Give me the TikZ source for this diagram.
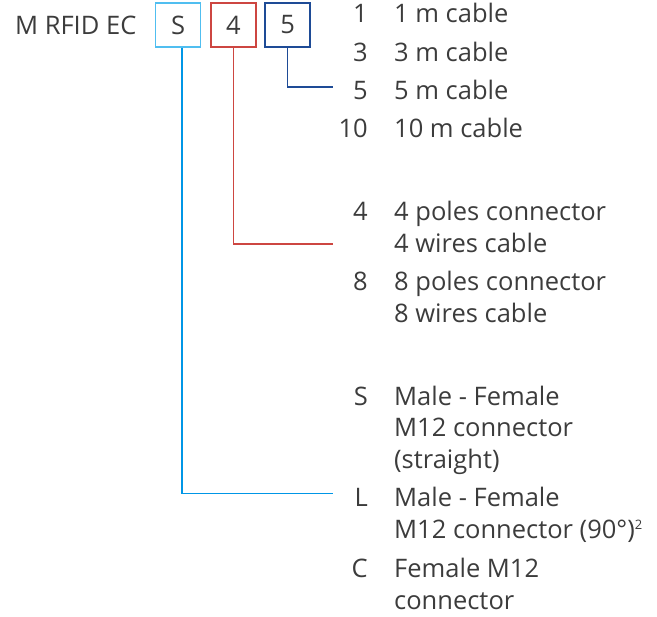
\documentclass[tikz,border=0pt]{standalone}
\usepackage{fontspec}
\setmainfont{Open Sans}
\definecolor{txt}{RGB}{60,60,60}
\definecolor{boxblue}{RGB}{80,190,240}
\definecolor{lineblue}{RGB}{0,150,230}
\definecolor{lred}{RGB}{205,70,65}
\definecolor{dblue}{RGB}{30,75,150}
\tikzset{
  lbl/.style={inner sep=0pt,text=txt,font=\fontsize{25.5}{30}\selectfont},
  code/.style={lbl,anchor=base east},
  desc/.style={lbl,anchor=base west},
  codebox/.style={draw,line width=1.4pt,minimum width=45pt,minimum height=44pt,inner sep=0pt,text=txt,font=\fontsize{25.5}{30}\selectfont},
  conn/.style={line width=1.5pt}
}
\begin{document}
\begin{tikzpicture}[x=1pt,y=-1pt]
\useasboundingbox (0,0) rectangle (657,617);
\node[desc] (title) at (15,35) {M RFID EC};
\node[codebox,draw=boxblue] (bS) at (178.2,25) {S};
\node[codebox,draw=lred] (b4) at (233.3,25) {4};
\node[codebox,draw=dblue] (b5) at (287.6,25) {5};
% length
\node[code] (c1) at (368,23) {1};
\node[desc] (d1) at (394,23) {1 m cable};
\node[code] (c3) at (368,62) {3};
\node[desc] (d3) at (394,62) {3 m cable};
\node[code] (c5) at (368,100) {5};
\node[desc] (d5) at (394,100) {5 m cable};
\node[code] (c10) at (368,138) {10};
\node[desc] (d10) at (394,138) {10 m cable};
% poles
\node[code] (c4) at (368,221) {4};
\node[desc] (d4a) at (394,221) {4 poles connector};
\node[desc] (d4b) at (394,252.5) {4 wires cable};
\node[code] (c8) at (368,291) {8};
\node[desc] (d8a) at (394,291) {8 poles connector};
\node[desc] (d8b) at (394,322.5) {8 wires cable};
% connector type
\node[code] (cS) at (368,405.5) {S};
\node[desc] (dSa) at (394,405.5) {Male - Female};
\node[desc] (dSb) at (394,437) {M12 connector};
\node[desc] (dSc) at (394,468.5) {(straight)};
\node[code] (cL) at (368,507) {L};
\node[desc] (dLa) at (394,507) {Male - Female};
\node[desc] (dLb) at (394,538.5) {M12 connector (90°)\textsuperscript{\fontsize{13}{13}\selectfont 2}};
\node[code] (cC) at (368,578) {C};
\node[desc] (dCa) at (394,578) {Female M12};
\node[desc] (dCb) at (394,609.5) {connector};
% connector ends
\coordinate (eS) at (333,493.5);
\coordinate (e4) at (333,244);
\coordinate (e5) at (333,87);
\draw[conn,draw=lineblue] ([xshift=3.8pt]bS.south) |- (eS);
\draw[conn,draw=lred] (b4.south) |- (e4);
\draw[conn,draw=dblue] (b5.south) |- (e5);
\end{tikzpicture}
\end{document}
